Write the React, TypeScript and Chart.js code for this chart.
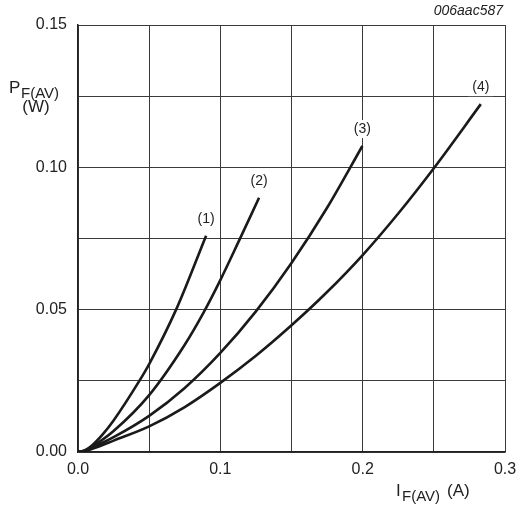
import React, { useEffect, useRef } from "react";
import { Chart, registerables } from "chart.js";

Chart.register(...registerables);

const FONT = '"Liberation Sans", Arial, Helvetica, sans-serif';

const curve1I = [0, 0.005, 0.01, 0.0175, 0.025, 0.0431, 0.05, 0.069, 0.09];
const curve1P = [0, 0.0006, 0.0024, 0.0063, 0.0111, 0.025, 0.0309, 0.0501, 0.076];

const curve2I = [0, 0.005, 0.01, 0.025, 0.05, 0.075, 0.088, 0.1, 0.1134, 0.1272];
const curve2P = [0, 0.0005, 0.0019, 0.0074, 0.02, 0.0377, 0.0488, 0.0604, 0.0745, 0.0893];

const curve3I = [0, 0.005, 0.01, 0.025, 0.05, 0.075, 0.1, 0.125, 0.15, 0.175, 0.1998];
const curve3P = [0, 0.0004, 0.0015, 0.0052, 0.0127, 0.0225, 0.0348, 0.0494, 0.0664, 0.0858, 0.1075];

const curve4I = [0, 0.005, 0.01, 0.025, 0.05, 0.075, 0.1, 0.125, 0.15, 0.175, 0.2, 0.225, 0.25, 0.283];
const curve4P = [0, 0.0003, 0.0011, 0.004, 0.009, 0.0158, 0.0243, 0.0338, 0.0445, 0.0562, 0.0692, 0.0838, 0.0997, 0.1222];

const curveLabels = ["(1)", "(2)", "(3)", "(4)"];
const xTickLabels = ["0.0", "0.1", "0.2", "0.3"];
const yTickLabels = ["0.00", "0.05", "0.10", "0.15"];

const toPoints = (xs: number[], ys: number[]) => xs.map((x, i) => ({ x, y: ys[i] }));

const labelPlugin = {
  id: "curveLabels",
  afterDatasetsDraw(chart: any) {
    const ctx = chart.ctx;
    const xs = chart.scales.x;
    const ys = chart.scales.y;
    ctx.save();
    ctx.font = `14px ${FONT}`;
    ctx.textAlign = "center";
    ctx.textBaseline = "middle";
    chart.data.datasets.forEach((ds: any, i: number) => {
      const last = ds.data[ds.data.length - 1];
      const px = xs.getPixelForValue(last.x);
      const py = ys.getPixelForValue(last.y) - 17;
      const w = ctx.measureText(curveLabels[i]).width + 8;
      ctx.fillStyle = "#ffffff";
      ctx.fillRect(px - w / 2, py - 9, w, 18);
      ctx.fillStyle = "#222";
      ctx.fillText(curveLabels[i], px, py);
    });
    ctx.restore();
  },
  afterDraw(chart: any) {
    const ctx = chart.ctx;
    ctx.save();
    ctx.fillStyle = "#222";
    ctx.textBaseline = "alphabetic";
    ctx.textAlign = "left";
    // y title
    ctx.font = `17px ${FONT}`;
    ctx.fillText("P", 9, 93);
    ctx.font = `15px ${FONT}`;
    ctx.fillText("F(AV)", 21, 98);
    ctx.font = `17px ${FONT}`;
    ctx.textAlign = "center";
    ctx.fillText("(W)", 36, 112);
    // x title
    ctx.textAlign = "left";
    ctx.font = `17px ${FONT}`;
    ctx.fillText("I", 396, 496);
    ctx.font = `15px ${FONT}`;
    ctx.fillText("F(AV)", 402, 501);
    ctx.font = `17px ${FONT}`;
    ctx.fillText("(A)", 447, 496);
    // code
    ctx.font = `italic 14px ${FONT}`;
    ctx.textAlign = "right";
    ctx.fillText("006aac587", 503, 15);
    ctx.restore();
  },
};

export default function App() {
  const ref = useRef<HTMLCanvasElement | null>(null);
  useEffect(() => {
    document.body.style.margin = "0";
    if (!ref.current) return;
    const lineStyle = {
      borderColor: "#1a1a1a",
      borderWidth: 2.6,
      pointRadius: 0,
      fill: false,
      cubicInterpolationMode: "monotone" as const,
    };
    const chart = new Chart(ref.current, {
      type: "line",
      data: {
        datasets: [
          { ...lineStyle, data: toPoints(curve1I, curve1P) },
          { ...lineStyle, data: toPoints(curve2I, curve2P) },
          { ...lineStyle, data: toPoints(curve3I, curve3P) },
          { ...lineStyle, data: toPoints(curve4I, curve4P) },
        ],
      },
      options: {
        animation: false,
        responsive: false,
        maintainAspectRatio: false,
        layout: { padding: { left: 0, right: 14, top: 25, bottom: 0 } },
        plugins: { legend: { display: false }, tooltip: { enabled: false } },
        scales: {
          x: {
            type: "linear",
            min: 0,
            max: 0.3,
            afterFit: (s: any) => {
              s.height = 55;
              s.paddingLeft = 0;
              s.paddingRight = 0;
            },
            ticks: {
              stepSize: 0.05,
              padding: 8,
              maxRotation: 0,
              autoSkip: false,
              color: "#222",
              font: { family: FONT, size: 16 },
              callback: (v: any) => {
                const k = Number(v) / 0.1;
                return Math.abs(k - Math.round(k)) < 1e-6 ? xTickLabels[Math.round(k)] : "";
              },
            },
            grid: { color: "#3a3a3a", lineWidth: 1, drawTicks: false },
            border: { color: "#222", width: 1.5 },
          },
          y: {
            type: "linear",
            min: 0,
            max: 0.15,
            afterFit: (s: any) => {
              s.width = 78;
              s.paddingTop = 0;
              s.paddingBottom = 0;
            },
            ticks: {
              stepSize: 0.025,
              padding: 11,
              autoSkip: false,
              color: "#222",
              font: { family: FONT, size: 16 },
              callback: (v: any) => {
                const k = Number(v) / 0.05;
                return Math.abs(k - Math.round(k)) < 1e-6 ? yTickLabels[Math.round(k)] : "";
              },
            },
            grid: { color: "#3a3a3a", lineWidth: 1, drawTicks: false },
            border: { color: "#222", width: 1.5 },
          },
        },
      },
      plugins: [labelPlugin],
    });
    return () => chart.destroy();
  }, []);
  return <canvas ref={ref} width={519} height={507} style={{ display: "block" }} />;
}
